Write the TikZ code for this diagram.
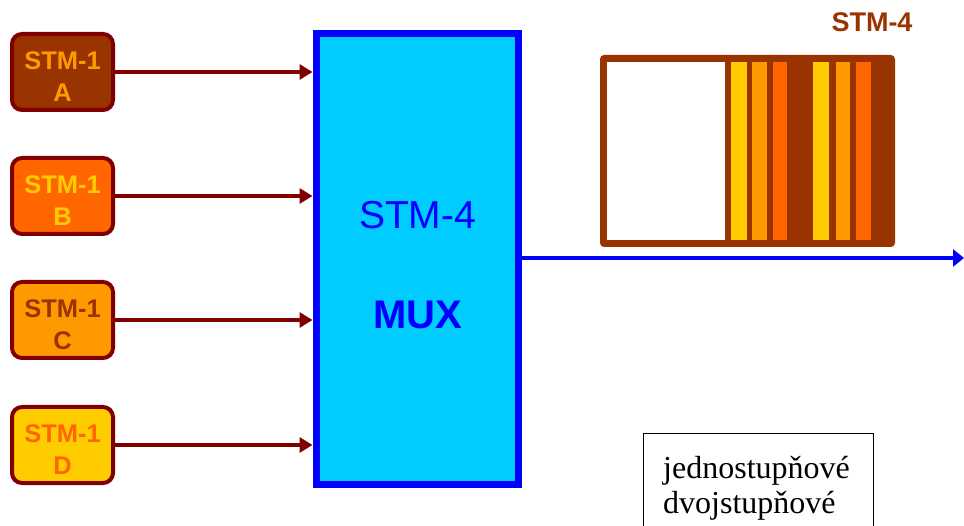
\documentclass[tikz,border=0pt]{standalone}
\usepackage{fontspec}
\setmainfont{Liberation Serif}
\setsansfont{Liberation Sans}
\usetikzlibrary{arrows.meta}
\definecolor{mred}{HTML}{800000}
\definecolor{cbrown}{HTML}{993300}
\definecolor{cdorange}{HTML}{FF6600}
\definecolor{corange}{HTML}{FF9900}
\definecolor{cyellow}{HTML}{FFCC00}
\definecolor{ccyan}{HTML}{00CCFF}
\definecolor{cblue}{HTML}{0000FF}
\tikzset{
  inbox/.style={draw=mred, line width=4pt, rounded corners=10pt, minimum width=101pt, minimum height=76pt, inner sep=0pt},
  intext/.style={font=\sffamily\bfseries\fontsize{25.5}{32}\selectfont, align=center, inner sep=0pt},
  inarrow/.style={draw=mred, line width=3.5pt, -{Triangle[length=13pt,width=15pt]}, shorten >=0.5pt},
  muxbox/.style={draw=cblue, fill=ccyan, line width=7pt, minimum width=202pt, minimum height=451pt, inner sep=0pt},
  outarrow/.style={draw=cblue, line width=3.5pt, -{Triangle[length=11pt,width=17pt]}},
  notebox/.style={draw=black, line width=1pt},
  notetext/.style={font=\fontsize{32}{36}\selectfont, anchor=base west, inner sep=0pt}
}
\begin{document}
\begin{tikzpicture}[x=1pt, y=-1pt]
\useasboundingbox (0,0) rectangle (964,526);
% inputs
\node[inbox, fill=cbrown] (a) at (62.5,72) {};
\node[intext, text=corange] (at) at ([yshift=-5pt]a.center) {STM-1\\A};
\node[inbox, fill=cdorange] (b) at (62.5,196) {};
\node[intext, text=cyellow] (bt) at ([yshift=-5pt]b.center) {STM-1\\B};
\node[inbox, fill=corange] (c) at (62.5,320) {};
\node[intext, text=cbrown] (ct) at ([yshift=-5pt]c.center) {STM-1\\C};
\node[inbox, fill=cyellow] (d) at (62.5,445) {};
\node[intext, text=cdorange] (dt) at ([yshift=-5pt]d.center) {STM-1\\D};
% MUX
\node[muxbox] (mux) at (417.5,259) {};
\node[font=\sffamily\fontsize{39}{39}\selectfont, text=cblue, anchor=base, inner sep=0pt] (muxa) at (417.5,229) {STM-4};
\node[font=\sffamily\bfseries\fontsize{40}{40}\selectfont, text=cblue, anchor=base, inner sep=0pt] (muxb) at (417.5,329) {MUX};
\foreach \n in {a,b,c,d}{
  \draw[inarrow] (\n.east) -- (\n.east -| mux.west);
}
% output
\coordinate (out) at (964,258);
\draw[outarrow] (out -| mux.east) -- (out);
% STM-4 frame
\fill[cbrown, rounded corners=4pt] (600,55) rectangle (895,247);
\fill[white] (607,62) rectangle (725,240);
\fill[cyellow] (731,62) rectangle (747,240);
\fill[corange] (752,62) rectangle (767,240);
\fill[cdorange] (773,62) rectangle (787,240);
\fill[cyellow] (813,62) rectangle (829,240);
\fill[corange] (836,62) rectangle (850,240);
\fill[cdorange] (856,62) rectangle (871,240);
\node[font=\sffamily\bfseries\fontsize{27}{27}\selectfont, text=cbrown, anchor=base, inner sep=0pt] (stm4) at (872,32) {STM-4};
% note box
\draw[notebox] (643,434) rectangle (873,545);
\node[notetext] (n1) at (663,478) {jednostupňové};
\node[notetext] (n2) at (663,513) {dvojstupňové};
\end{tikzpicture}
\end{document}
